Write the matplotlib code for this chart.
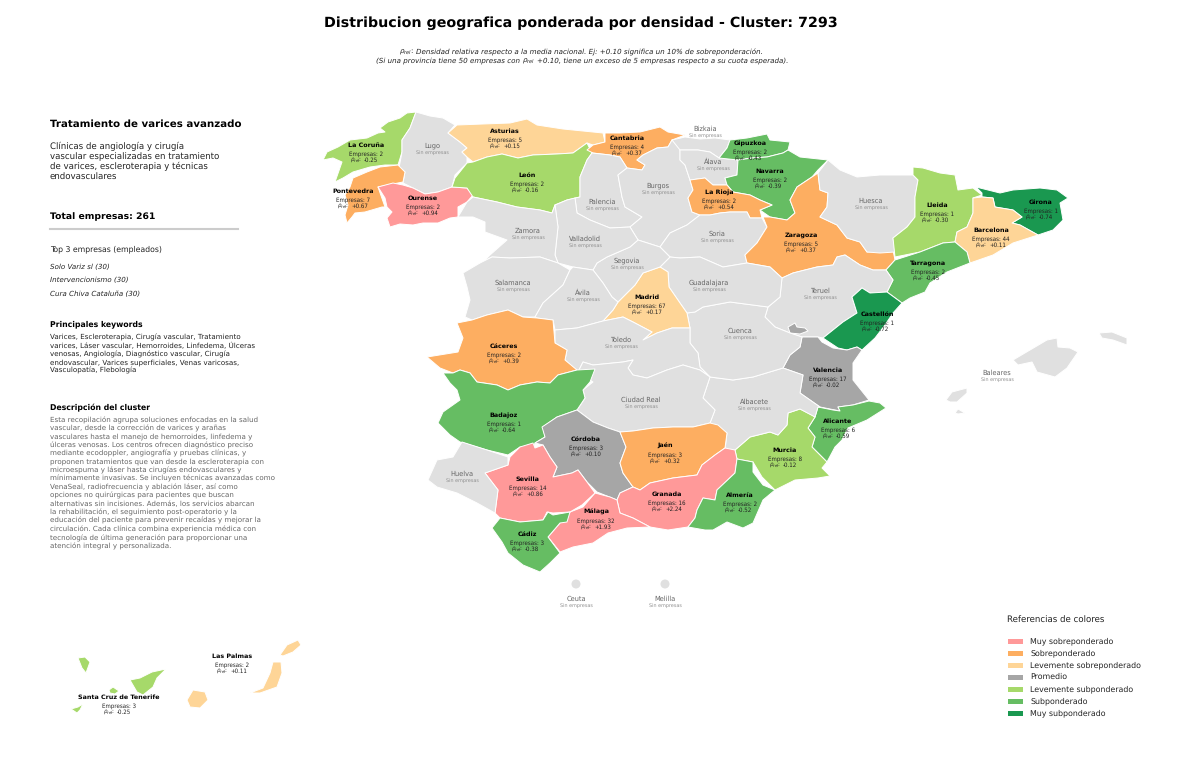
import matplotlib
matplotlib.use("Agg")
import matplotlib.pyplot as plt
from matplotlib.patches import Polygon, Circle, Rectangle

plt.rcParams["text.hinting"] = "no_hinting"

# Outlines, in picture pixels
outlines = {
    "La Coruña": [[(416,112),(407,113),(400,118),(388,122),(380,128),(385,132),(378,133),(367,138),(350,140),(338,147),(327,152),(323,160),(333,158),(342,162),(335,182),(343,178),(353,172),(370,167),(385,165),(398,165),(402,152),(402,140),(410,128)]],
    "Lugo": [[(416,112),(410,128),(402,140),(402,152),(399,168),(405,172),(403,183),(413,188),(425,194),(438,192),(452,187),(455,175),(467,163),(467,157),(462,152),(467,148),(460,142),(448,133),(455,125),(443,118),(430,116)]],
    "Pontevedra": [[(347,223),(352,217),(355,213),(365,212),(382,207),(385,207),(378,187),(403,182),(405,172),(398,165),(380,167),(367,172),(353,178),(350,187),(345,195),(348,205),(345,215)]],
    "Ourense": [[(378,187),(393,183),(403,185),(413,188),(425,194),(438,192),(452,187),(467,188),(473,195),(467,202),(458,207),(458,217),(450,218),(438,223),(423,223),(413,225),(400,224),(390,227),(387,218),(392,212),(387,207),(385,198)]],
    "Asturias": [[(448,133),(457,125),(483,124),(510,123),(527,119),(537,125),(563,129),(603,133),(605,142),(593,145),(587,143),(573,153),(557,154),(533,155),(518,158),(502,154),(487,157),(473,162),(467,157),(462,152),(467,148),(460,142)]],
    "León": [[(455,178),(467,163),(473,162),(487,157),(502,154),(518,158),(533,155),(557,154),(573,153),(587,143),(592,153),(587,160),(580,177),(580,197),(567,200),(555,205),(552,213),(540,210),(517,207),(497,202),(473,197),(467,188),(452,187)]],
    "Cantabria": [[(587,150),(593,145),(605,142),(605,133),(620,133),(640,132),(660,127),(668,132),(685,135),(672,140),(668,147),(657,148),(643,155),(637,160),(645,165),(642,170),(627,168),(620,157),(610,155),(593,153)]],
    "Palencia": [[(592,153),(610,155),(620,157),(627,168),(618,175),(622,197),(625,207),(642,217),(630,227),(610,228),(590,220),(577,213),(575,198),(580,197),(580,177),(587,160)]],
    "Burgos": [[(618,175),(627,168),(642,170),(645,165),(637,160),(643,155),(657,148),(668,147),(672,140),(685,140),(680,150),(680,160),(685,165),(690,180),(693,190),(688,198),(692,212),(700,215),(687,225),(670,233),(660,247),(638,240),(630,227),(642,217),(625,207),(622,197)]],
    "Bizkaia": [[(672,140),(685,137),(700,139),(715,138),(730,140),(727,148),(719,158),(710,152),(698,150),(680,150)]],
    "Álava": [[(680,150),(698,150),(710,152),(719,158),(738,160),(737,175),(725,178),(727,185),(713,185),(705,178),(690,180),(685,165),(680,160)]],
    "Gipuzkoa": [[(719,158),(727,148),(730,140),(747,138),(767,134),(770,140),(790,142),(788,150),(783,153),(767,157),(752,158),(738,160)]],
    "Navarra": [[(738,160),(752,158),(767,157),(783,153),(788,150),(800,157),(828,160),(818,170),(812,177),(797,187),(790,200),(795,213),(787,220),(770,217),(760,210),(772,205),(760,200),(750,195),(733,192),(727,185),(725,178),(737,175)]],
    "La Rioja": [[(690,180),(705,178),(713,185),(727,185),(733,192),(750,195),(760,200),(772,205),(760,210),(762,218),(750,218),(747,212),(730,212),(720,213),(710,215),(700,215),(692,212),(688,198),(693,190)]],
    "Soria": [[(700,215),(710,215),(720,213),(730,212),(747,212),(750,218),(762,218),(767,227),(757,243),(745,255),(747,263),(723,267),(700,257),(680,258),(670,257),(660,247),(670,233),(687,225)]],
    "Zaragoza": [[(763,217),(770,217),(787,220),(795,213),(790,200),(797,187),(812,177),(818,173),(820,190),(828,193),(827,207),(820,217),(837,225),(847,238),(860,242),(867,252),(893,250),(895,260),(886,270),(873,270),(860,265),(845,255),(837,257),(833,265),(817,267),(793,273),(782,278),(770,267),(747,263),(745,255),(757,243),(767,227)]],
    "Huesca": [[(818,173),(828,160),(840,170),(857,177),(880,175),(913,175),(918,180),(915,197),(915,217),(907,227),(893,238),(895,252),(880,253),(867,252),(860,242),(847,238),(837,225),(820,217),(827,207),(828,193),(820,190)]],
    "Lleida": [[(913,167),(923,168),(940,173),(955,175),(958,190),(973,188),(982,195),(973,198),(973,213),(967,227),(957,232),(955,242),(943,243),(920,252),(895,257),(893,238),(907,227),(915,217),(915,197),(918,180),(913,175)]],
    "Girona": [[(976,187),(988,190),(1000,193),(1013,190),(1040,188),(1057,190),(1068,198),(1060,203),(1063,220),(1053,230),(1038,235),(1020,225),(1012,223),(1022,217),(1013,210),(995,207),(993,198),(982,197),(982,193)]],
    "Barcelona": [[(973,198),(982,197),(993,198),(995,207),(1013,210),(1022,217),(1012,223),(1020,225),(1038,235),(1013,243),(993,255),(970,263),(967,252),(955,242),(957,232),(967,227),(973,213)]],
    "Tarragona": [[(955,242),(967,252),(970,263),(947,272),(930,283),(925,292),(910,298),(902,303),(887,292),(893,280),(886,270),(895,260),(920,252),(943,243)]],
    "Teruel": [[(782,278),(793,273),(817,267),(833,265),(837,257),(845,255),(860,265),(873,270),(886,270),(893,280),(887,292),(870,293),(862,288),(852,297),(857,313),(843,322),(823,338),(818,337),(802,337),(790,333),(775,327),(765,317),(768,307),(780,297)]],
    "Castellón": [[(862,288),(870,293),(887,292),(902,303),(893,313),(885,325),(875,338),(862,350),(857,347),(847,350),(838,348),(823,338),(843,322),(857,313),(852,297)]],
    "Valencia": [[(802,337),(818,337),(822,342),(833,348),(847,350),(857,347),(862,350),(853,363),(853,380),(869,400),(853,405),(838,407),(840,411),(820,407),(800,393),(803,375),(783,368),(790,355),(800,347)],
                 [(788,327),(795,323),(797,327),(805,328),(808,331),(800,334),(790,333)]],
    "Alicante": [[(838,407),(853,405),(869,401),(880,403),(886,408),(867,420),(848,428),(842,440),(835,447),(827,462),(812,447),(815,437),(808,428),(815,417),(818,407),(833,410),(840,411)]],
    "Murcia": [[(788,413),(800,409),(812,415),(815,417),(808,428),(815,437),(812,447),(827,462),(822,468),(830,476),(818,478),(795,480),(775,490),(762,477),(753,462),(737,459),(735,450),(750,437),(770,432),(778,435),(787,425)]],
    "Albacete": [[(710,377),(733,380),(753,377),(783,368),(803,375),(800,393),(820,407),(818,407),(815,417),(800,409),(788,413),(787,425),(778,435),(770,432),(750,437),(735,450),(725,450),(727,433),(710,423),(715,410),(703,398)]],
    "Cuenca": [[(695,312),(703,307),(730,302),(768,307),(765,317),(775,327),(790,333),(802,337),(800,347),(790,355),(783,368),(753,377),(733,380),(710,377),(700,367),(698,353),(690,343),(690,328),(687,313)]],
    "Guadalajara": [[(680,258),(700,257),(723,267),(747,263),(770,267),(782,278),(780,297),(768,307),(730,302),(703,307),(695,312),(687,313),(680,303),(669,287),(668,272),(660,267),(670,257)]],
    "Madrid": [[(660,267),(668,272),(669,287),(680,303),(687,313),(690,328),(672,328),(657,333),(643,340),(652,332),(633,322),(623,317),(603,321),(613,310),(618,302),(635,285),(643,273)]],
    "Segovia": [[(597,263),(607,257),(630,247),(638,240),(660,247),(670,257),(660,267),(643,273),(635,285),(618,302),(612,297),(603,283),(593,270)]],
    "Valladolid": [[(575,198),(577,213),(590,220),(610,228),(630,227),(638,240),(630,247),(607,257),(597,263),(593,270),(573,267),(558,263),(555,255),(558,227),(555,205),(567,200)]],
    "Zamora": [[(458,217),(467,202),(473,197),(497,202),(517,207),(540,210),(552,213),(555,205),(558,227),(555,255),(558,263),(540,257),(510,258),(492,257),(483,262),(490,255),(507,240),(485,232),(485,222),(473,217)]],
    "Salamanca": [[(463,273),(480,263),(492,257),(510,258),(540,257),(558,263),(570,270),(563,285),(543,303),(535,317),(523,317),(508,310),(487,315),(472,320),(465,317),(470,300),(467,287)]],
    "Ávila": [[(570,270),(573,267),(593,270),(603,283),(612,297),(618,302),(613,310),(603,321),(577,328),(555,330),(553,320),(537,318),(535,317),(543,303),(563,285)]],
    "Toledo": [[(555,330),(577,328),(603,321),(623,317),(633,322),(652,332),(643,340),(657,333),(672,328),(690,328),(690,343),(698,353),(700,367),(710,377),(700,370),(683,365),(667,370),(647,378),(633,375),(628,368),(633,360),(623,362),(593,365),(583,362),(578,372),(565,360),(567,350),(555,343)]],
    "Ciudad Real": [[(578,372),(583,362),(593,365),(623,362),(633,360),(628,368),(633,375),(647,378),(667,370),(683,365),(700,370),(710,377),(703,398),(715,410),(710,423),(693,427),(673,427),(653,428),(633,431),(620,432),(608,428),(593,422),(577,410),(585,398),(583,390),(593,382)]],
    "Cáceres": [[(427,357),(458,352),(463,338),(457,323),(472,320),(487,315),(508,310),(523,317),(537,318),(553,320),(555,343),(567,350),(565,360),(577,370),(558,375),(550,383),(537,382),(520,385),(508,390),(497,385),(477,382),(470,373),(460,370),(453,373),(440,368)]],
    "Badajoz": [[(443,373),(453,373),(460,370),(470,373),(477,382),(497,385),(508,390),(520,385),(537,382),(550,383),(558,375),(577,370),(595,369),(590,382),(583,390),(585,398),(577,410),(557,417),(543,427),(545,437),(535,443),(533,448),(520,447),(508,455),(487,450),(460,442),(450,435),(438,423),(443,412),(460,400),(457,390),(450,383)]],
    "Córdoba": [[(542,427),(557,417),(577,410),(593,422),(608,428),(620,432),(626,447),(620,463),(623,473),(633,487),(620,493),(617,500),(597,492),(587,482),(578,470),(572,473),(553,477),(557,467),(550,457),(543,445),(535,443),(545,437)]],
    "Jaén": [[(620,432),(633,431),(653,428),(673,427),(693,427),(710,423),(718,425),(727,433),(725,448),(715,455),(702,465),(697,475),(673,478),(650,483),(640,490),(633,487),(623,473),(620,463),(626,447)]],
    "Granada": [[(640,490),(650,483),(673,478),(697,475),(702,465),(715,455),(725,448),(735,450),(737,459),(735,473),(717,490),(715,500),(703,498),(697,510),(695,518),(688,527),(668,530),(650,527),(633,518),(620,513),(617,500),(620,493),(633,487)]],
    "Almería": [[(737,459),(753,462),(753,472),(763,485),(775,490),(763,500),(753,523),(743,528),(727,522),(713,530),(705,530),(688,527),(695,518),(697,510),(703,498),(715,500),(717,490),(735,473)]],
    "Málaga": [[(560,552),(548,537),(560,523),(570,512),(583,507),(595,493),(610,497),(617,500),(620,513),(633,518),(650,527),(627,528),(608,533),(593,543),(573,547)]],
    "Sevilla": [[(485,473),(508,465),(510,457),(520,447),(533,443),(535,448),(543,445),(550,457),(557,467),(553,477),(572,473),(578,470),(587,482),(595,493),(582,505),(570,512),(553,513),(547,512),(543,520),(520,522),(500,518),(495,513),(498,490)]],
    "Cádiz": [[(492,528),(500,518),(520,522),(543,520),(548,512),(553,515),(570,512),(567,522),(560,523),(548,537),(560,553),(550,563),(540,572),(523,565),(508,553),(502,542)]],
    "Huelva": [[(428,480),(437,460),(453,457),(462,442),(487,450),(508,457),(508,465),(485,473),(498,490),(495,513),(477,503),(457,493),(437,487)]],
    "Baleares": [[(1013,360),(1030,350),(1047,340),(1057,338),(1058,347),(1070,348),(1078,352),(1067,368),(1055,377),(1037,372),(1032,362),(1018,365)],
                 [(1099,333),(1112,332),(1127,338),(1127,345),(1113,340),(1102,338)],
                 [(946,400),(952,392),(967,388),(967,393),(957,402),(950,402)],
                 [(955,413),(958,409),(965,413),(958,414)]],
    "Santa Cruz de Tenerife": [[(78,658),(85,657),(90,662),(86,673),(82,668)],
                               [(130,680),(140,678),(152,672),(166,669),(157,678),(153,687),(143,695),(137,692)],
                               [(109,690),(113,687),(119,691),(115,694),(110,693)],
                               [(71,709),(78,707),(83,704),(80,710),(77,713)]],
    "Las Palmas": [[(187,700),(193,690),(205,692),(208,700),(200,708),(190,707)],
                   [(250,693),(263,688),(270,673),(273,662),(281,662),(282,673),(277,687),(260,693)],
                   [(280,655),(287,645),(298,640),(301,645),(293,652),(283,656)]],
}

# Provinces with companies
names = ["La Coruña", "Pontevedra", "Ourense", "Asturias", "Cantabria", "León", "Gipuzkoa", "Navarra",
         "La Rioja", "Zaragoza", "Lleida", "Girona", "Barcelona", "Tarragona", "Castellón", "Valencia",
         "Madrid", "Cáceres", "Badajoz", "Córdoba", "Jaén", "Alicante", "Murcia", "Almería", "Granada",
         "Málaga", "Sevilla", "Cádiz", "Las Palmas", "Santa Cruz de Tenerife"]
empresas = [2, 7, 2, 5, 4, 2, 2, 2, 2, 5, 1, 1, 44, 2, 1, 17, 67, 2, 1, 3, 3, 6, 8, 2, 16, 32, 14, 3, 2, 3]
rho = [-0.25, 0.67, 0.94, 0.15, 0.37, -0.16, -0.43, -0.39, 0.54, 0.37, -0.30, -0.74, 0.11, -0.45, -0.72,
       -0.02, 0.17, 0.39, -0.64, 0.10, 0.32, -0.59, -0.12, -0.52, 2.24, 1.93, 0.86, -0.38, 0.11, -0.25]
clases = [4, 1, 0, 2, 1, 4, 5, 5, 1, 1, 4, 6, 2, 5, 6, 3, 2, 1, 5, 3, 1, 5, 4, 5, 0, 0, 0, 5, 2, 4]

ley_nombres = ["Muy sobreponderado", "Sobreponderado", "Levemente sobreponderado", "Promedio",
               "Levemente subponderado", "Subponderado", "Muy subponderado"]
ley_colores = ["#ff9999", "#fdae61", "#fed597", "#a6a6a6", "#a6d96a", "#66bd63", "#1a9850"]
gris = "#e0e0e0"

etiquetas = {
    "La Coruña": (366,145), "Lugo": (432,146), "Asturias": (505,131), "Cantabria": (627,138),
    "Bizkaia": (705,129), "Gipuzkoa": (750,143), "Álava": (713,162), "Navarra": (770,171),
    "León": (527,175), "Pontevedra": (353,191), "Ourense": (423,198), "Palencia": (602,202),
    "Burgos": (658,186), "La Rioja": (719,192), "Huesca": (871,201), "Lleida": (937,205),
    "Girona": (1041,202), "Barcelona": (991,230), "Zaragoza": (801,235), "Soria": (717,234),
    "Zamora": (528,231), "Valladolid": (585,239), "Segovia": (627,261), "Tarragona": (928,263),
    "Salamanca": (513,283), "Ávila": (583,293), "Madrid": (647,297), "Guadalajara": (709,283),
    "Teruel": (820,291), "Castellón": (877,314), "Cuenca": (740,331), "Toledo": (621,340),
    "Cáceres": (504,346), "Valencia": (828,370), "Ciudad Real": (641,400), "Albacete": (754,402),
    "Baleares": (997,373), "Badajoz": (504,415), "Alicante": (838,421), "Córdoba": (586,439),
    "Jaén": (665,446), "Murcia": (785,450), "Huelva": (462,474), "Sevilla": (528,479),
    "Granada": (667,494), "Almería": (740,495), "Málaga": (596,512), "Cádiz": (527,534),
    "Ceuta": (576,599), "Melilla": (665,599), "Las Palmas": (232,656),
    "Santa Cruz de Tenerife": (119,697),
}
ciudades = {"Ceuta": (576,584), "Melilla": (665,584)}

top3 = ["Solo Variz sl (30)", "Intervencionismo (30)", "Cura Chiva Cataluña (30)"]
subtitulo = "Clínicas de angiología y cirugía\nvascular especializadas en tratamiento\nde varices, escleroterapia y técnicas\nendovasculares"
keywords = ("Varices, Escleroterapia, Cirugía vascular, Tratamiento\n"
            "varices, Láser vascular, Hemorroides, Linfedema, Úlceras\n"
            "venosas, Angiología, Diagnóstico vascular, Cirugía\n"
            "endovascular, Varices superficiales, Venas varicosas,\n"
            "Vasculopatía, Flebología")
descripcion = ("Esta recopilación agrupa soluciones enfocadas en la salud\n"
               "vascular, desde la corrección de varices y arañas\n"
               "vasculares hasta el manejo de hemorroides, linfedema y\n"
               "úlceras venosas. Los centros ofrecen diagnóstico preciso\n"
               "mediante ecodoppler, angiografía y pruebas clínicas, y\n"
               "proponen tratamientos que van desde la escleroterapia con\n"
               "microespuma y láser hasta cirugías endovasculares y\n"
               "mínimamente invasivas. Se incluyen técnicas avanzadas como\n"
               "VenaSeal, radiofrecuencia y ablación láser, así como\n"
               "opciones no quirúrgicas para pacientes que buscan\n"
               "alternativas sin incisiones. Además, los servicios abarcan\n"
               "la rehabilitación, el seguimiento post-operatorio y la\n"
               "educación del paciente para prevenir recaídas y mejorar la\n"
               "circulación. Cada clínica combina experiencia médica con\n"
               "tecnología de última generación para proporcionar una\n"
               "atención integral y personalizada.")

fig = plt.figure(figsize=(12, 7.61), dpi=100)
ax = fig.add_axes([0, 0, 1, 1])
ax.set_xlim(0, 1200)
ax.set_ylim(761, 0)
ax.axis("off")

# Map
for prov in outlines:
    color = gris
    if prov in names:
        color = ley_colores[clases[names.index(prov)]]
    for anillo in outlines[prov]:
        ax.add_patch(Polygon(anillo, closed=True, fc=color, ec="white", lw=0.7, joinstyle="round"))
for c in ciudades:
    ax.add_patch(Circle(ciudades[c], 4.5, fc=gris, ec="none"))

# Province labels
for prov in etiquetas:
    x, y = etiquetas[prov]
    if prov in names:
        i = names.index(prov)
        ax.text(x, y, prov, ha="center", va="center", fontsize=4.6, fontweight="bold", color="black")
        ax.text(x, y + 9, f"Empresas: {empresas[i]}", ha="center", va="center", fontsize=4.0, color="#222222")
        # rho symbol and number apart, the number stays clean at this size
        ax.text(x - 4, y + 15, "$\\rho_{rel}$:", ha="right", va="center", fontsize=4.0, color="#222222")
        ax.text(x - 2, y + 15, f"{rho[i]:+.2f}", ha="left", va="center", fontsize=4.0, color="#222222")
    else:
        ax.text(x, y, prov, ha="center", va="center", fontsize=4.8, color="#666666")
        ax.text(x, y + 7, "Sin empresas", ha="center", va="center", fontsize=3.5, color="#909090")

# Title and note
ax.text(581, 23, "Distribucion geografica ponderada por densidad - Cluster: 7293", ha="center", va="center",
        fontsize=10.25, fontweight="bold")
ax.text(414, 52, "$\\rho_{rel}$:", ha="right", va="center", fontsize=5.1, color="#222222")
ax.text(416, 52, "Densidad relativa respecto a la media nacional. Ej: +0.10 significa un 10% de sobreponderación.",
        ha="left", va="center", fontsize=5.1, style="italic", color="#222222")
ax.text(376, 61, "(Si una provincia tiene 50 empresas con", ha="left", va="center", fontsize=5.1, style="italic", color="#222222")
ax.text(535, 61, "$\\rho_{rel}$", ha="right", va="center", fontsize=5.1, color="#222222")
ax.text(537, 61, "+0.10, tiene un exceso de 5 empresas respecto a su cuota esperada).",
        ha="left", va="center", fontsize=5.1, style="italic", color="#222222")

# Left column
ax.text(50, 124, "Tratamiento de varices avanzado", va="center", fontsize=7.4, fontweight="bold")
ax.text(50, 142, subtitulo, va="top", fontsize=6.2, color="#222222", linespacing=1.14)
ax.text(50, 217, "Total empresas: 261", va="center", fontsize=6.7, fontweight="bold")
ax.plot([50, 238], [229, 229], color="#cccccc", lw=1.5)
ax.text(50, 249, "Top 3 empresas (empleados)", va="center", fontsize=5.55, color="#222222")
for i, t in enumerate(top3):
    ax.text(50, 267 + 13.5 * i, t, va="center", fontsize=5.1, style="italic", color="#222222")
ax.text(50, 324, "Principales keywords", va="center", fontsize=5.6, fontweight="bold")
ax.text(50, 334, keywords, va="top", fontsize=5.13, color="#222222", linespacing=1.25)
ax.text(50, 408, "Descripción del cluster", va="center", fontsize=5.6, fontweight="bold")
ax.text(50, 416.5, descripcion, va="top", fontsize=5.1, color="#666666", linespacing=1.26)

# Legend
ax.text(1007, 619, "Referencias de colores", va="center", fontsize=6.2, color="#222222")
for i, n in enumerate(ley_nombres):
    y = 641 + 12 * i
    ax.add_patch(Rectangle((1008, y - 2.5), 15, 5, fc=ley_colores[i], ec="none"))
    ax.text(1030, y, n, va="center", fontsize=5.7, color="#222222")

fig.savefig("out.png", dpi=100)
